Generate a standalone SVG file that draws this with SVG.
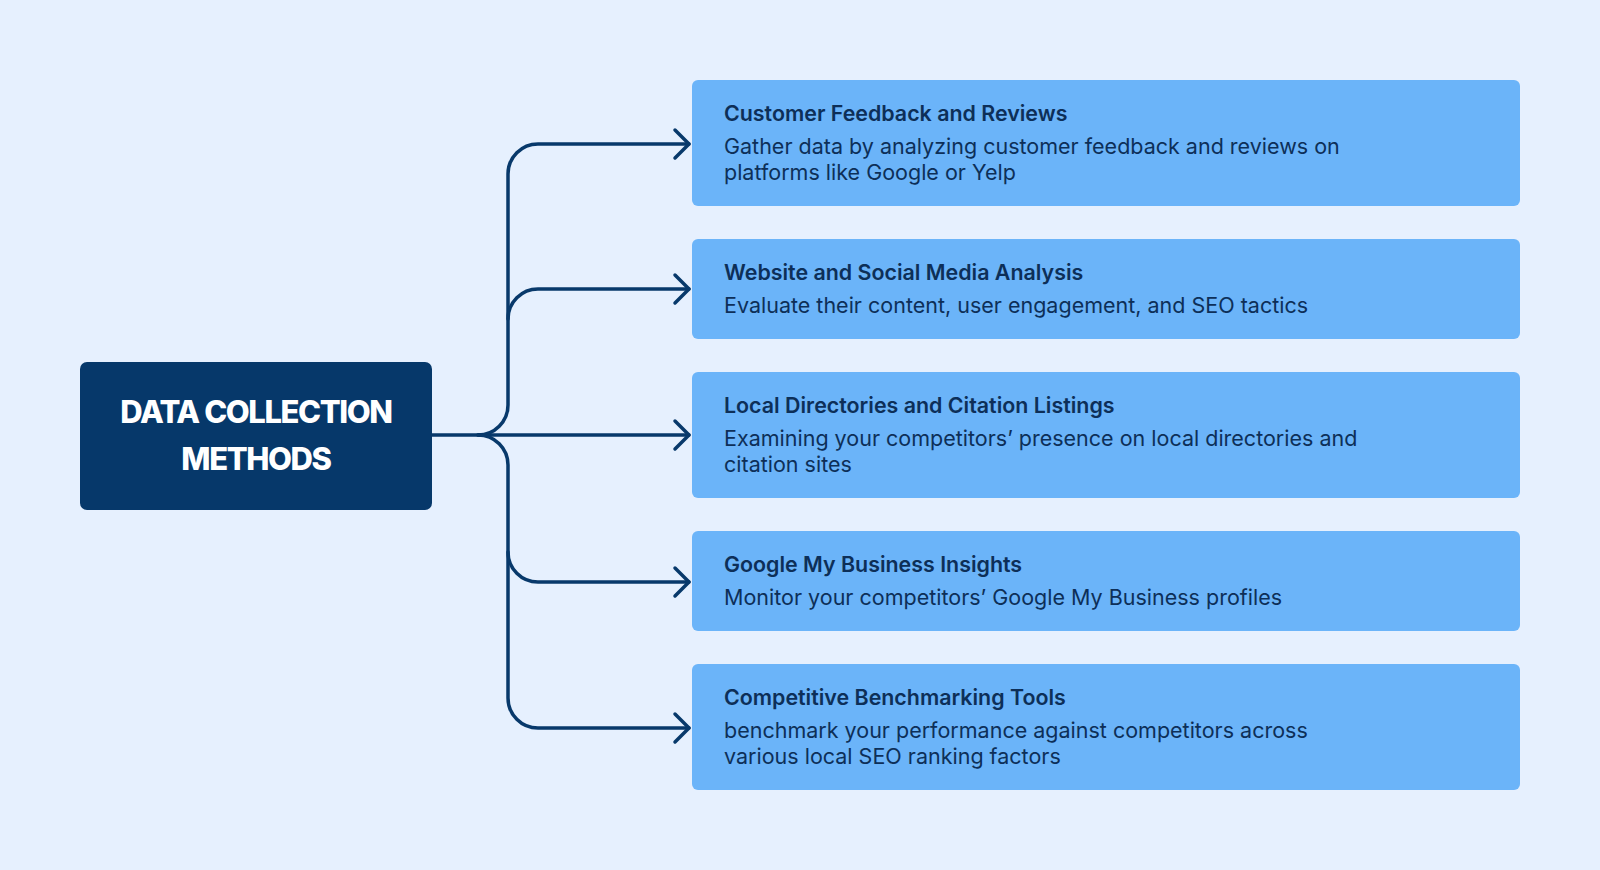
<svg xmlns="http://www.w3.org/2000/svg" width="1600" height="870" viewBox="0 0 1600 870">
<style>
.bg{fill:#e6f0fe}
.box{fill:#6bb4f9}
.main{fill:#06386a}
.conn{fill:none;stroke:#08396b;stroke-width:3.5;stroke-linecap:round;stroke-linejoin:round}
.t{font-family:Inter,"Noto Sans",sans-serif;font-size:21.4px;font-weight:600;fill:#0d2f58}
.d{font-family:Inter,"Noto Sans",sans-serif;font-size:21.5px;font-weight:400;fill:#0d2f58}
.m{font-family:Inter,"Open Sans",sans-serif;font-size:31px;font-weight:800;fill:#ffffff;letter-spacing:-1.4px}
</style>
<rect class="bg" x="0" y="0" width="1600" height="870"/>
<g id="connectors">
<path class="conn" d="M432,435 H689"/>
<path class="conn" d="M478,435 A30,30 0 0 0 508,405 V174 A30,30 0 0 1 538,144 H689"/>
<path class="conn" d="M508,319 A30,30 0 0 1 538,289 H689"/>
<path class="conn" d="M478,435 A30,30 0 0 1 508,465 V698 A30,30 0 0 0 538,728 H689"/>
<path class="conn" d="M508,552 A30,30 0 0 0 538,582 H689"/>
<path class="conn" d="M675,130 L689,144 L675,158"/>
<path class="conn" d="M675,275 L689,289 L675,303"/>
<path class="conn" d="M675,421 L689,435 L675,449"/>
<path class="conn" d="M675,568 L689,582 L675,596"/>
<path class="conn" d="M675,714 L689,728 L675,742"/>
</g>
<g id="main">
<rect class="main" x="80" y="362" width="352" height="148" rx="7"/>
<text class="m" x="256" y="423" text-anchor="middle">DATA COLLECTION</text>
<text class="m" x="256" y="470" text-anchor="middle">METHODS</text>
</g>
<g id="n1">
<rect class="box" x="692" y="80" width="828" height="126" rx="6"/>
<text class="t" x="724" y="121">Customer Feedback and Reviews</text>
<text class="d" x="724" y="154">Gather data by analyzing customer feedback and reviews on</text>
<text class="d" x="724" y="180">platforms like Google or Yelp</text>
</g>
<g id="n2">
<rect class="box" x="692" y="239" width="828" height="100" rx="6"/>
<text class="t" x="724" y="280">Website and Social Media Analysis</text>
<text class="d" x="724" y="313">Evaluate their content, user engagement, and SEO tactics</text>
</g>
<g id="n3">
<rect class="box" x="692" y="372" width="828" height="126" rx="6"/>
<text class="t" x="724" y="413">Local Directories and Citation Listings</text>
<text class="d" x="724" y="446">Examining your competitors’ presence on local directories and</text>
<text class="d" x="724" y="472">citation sites</text>
</g>
<g id="n4">
<rect class="box" x="692" y="531" width="828" height="100" rx="6"/>
<text class="t" x="724" y="572">Google My Business Insights</text>
<text class="d" x="724" y="605">Monitor your competitors’ Google My Business profiles</text>
</g>
<g id="n5">
<rect class="box" x="692" y="664" width="828" height="126" rx="6"/>
<text class="t" x="724" y="705">Competitive Benchmarking Tools</text>
<text class="d" x="724" y="738">benchmark your performance against competitors across</text>
<text class="d" x="724" y="764">various local SEO ranking factors</text>
</g>
</svg>
